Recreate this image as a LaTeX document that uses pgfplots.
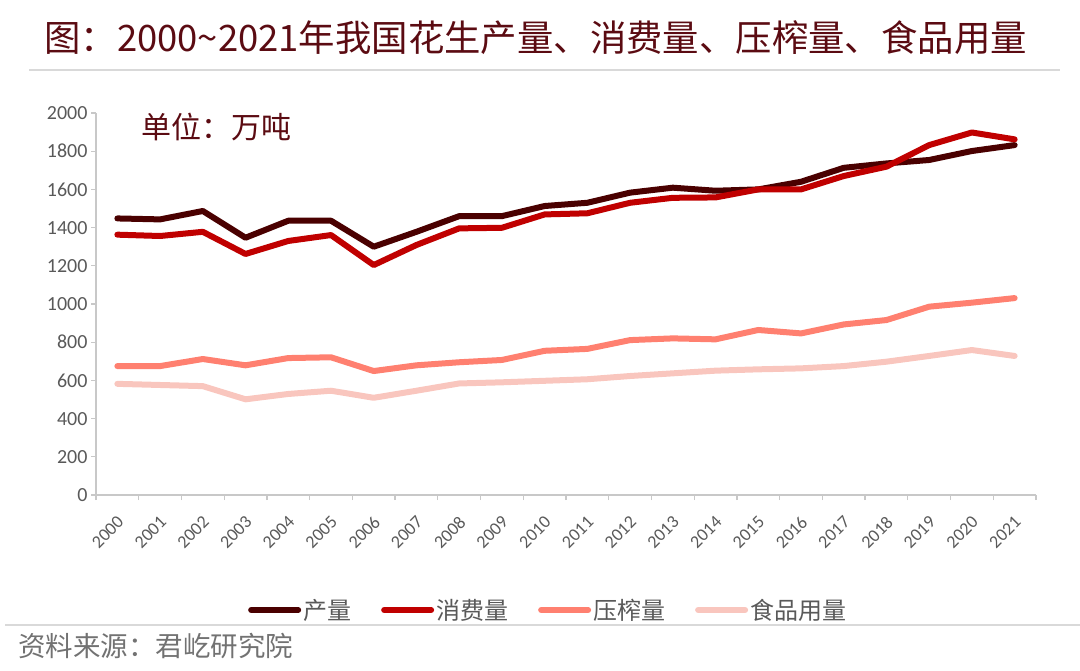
\documentclass[border=0pt]{standalone}
\usepackage{fontspec}
\setmainfont{Noto Sans CJK SC}
\newfontfamily\carlito{Carlito}
\usepackage{pgfplots}
\pgfplotsset{compat=1.18}
\definecolor{titlec}{HTML}{5B0B12}
\definecolor{c1}{HTML}{4A0000}
\definecolor{c2}{HTML}{C00000}
\definecolor{c3}{HTML}{FF8070}
\definecolor{c4}{HTML}{F9C6BE}
\definecolor{axisgray}{HTML}{C8C8C8}
\definecolor{sepgray}{HTML}{D9D9D9}
\definecolor{txtgray}{HTML}{595959}
\begin{document}
\begin{tikzpicture}
\path[use as bounding box] (0,0) rectangle (1080bp,-671bp);
\node[anchor=west, inner sep=0pt, text=titlec, font=\fontsize{36.4bp}{40bp}\selectfont] at (44bp,-38bp) {图：2000\char`~2021年我国花生产量、消费量、压榨量、食品用量};
\draw[sepgray, line width=1.5bp] (29bp,-70bp) -- (1060bp,-70bp);
\draw[sepgray, line width=1.5bp] (5bp,-625bp) -- (1080bp,-625bp);
\node[anchor=west, inner sep=0pt, text=titlec, font=\fontsize{30bp}{33bp}\selectfont] at (141bp,-127bp) {单位：万吨};
\node[anchor=west, inner sep=0pt, text=txtgray!85, font=\fontsize{27.5bp}{30bp}\selectfont] at (18bp,-646bp) {资料来源：君屹研究院};
\begin{axis}[
  at={(96bp,-495bp)}, anchor=south west,
  scale only axis, width=940bp, height=382bp,
  xmin=-0.5, xmax=21.5, ymin=0, ymax=2000,
  axis x line*=bottom, axis y line*=left,
  axis line style={draw=axisgray, line width=1.3bp},
  xtick={-0.5,0.5,...,21.5},
  x tick label as interval,
  xticklabels={2000,2001,2002,2003,2004,2005,2006,2007,2008,2009,2010,2011,2012,2013,2014,2015,2016,2017,2018,2019,2020,2021},
  ytick={0,200,...,2000},
  tick align=outside, major tick length=5bp,
  tick style={draw=axisgray, line width=1.3bp},
  /pgf/number format/assume math mode=true,
  /pgf/number format/1000 sep={},
  yticklabel style={font=\carlito\fontsize{20bp}{22bp}\selectfont, text=txtgray},
  xticklabel style={font=\carlito\fontsize{18bp}{20bp}\selectfont, text=txtgray, xshift=-1bp, yshift=-10bp, rotate=45, anchor=north east},
  every axis plot/.append style={line width=6bp, line join=round, line cap=round},
  legend columns=4,
  legend style={at={(0.481,-0.301)}, anchor=center, draw=none, fill=none,
    font=\fontsize{24bp}{26bp}\selectfont, text=txtgray,
    /tikz/every even column/.append style={column sep=28bp}},
  legend image code/.code={\draw[#1] (3bp,0bp) -- (50bp,0bp);},
]
\addplot[c1] coordinates {(0,1448)(1,1443)(2,1487)(3,1347)(4,1436)(5,1436)(6,1300)(7,1378)(8,1460)(9,1460)(10,1513)(11,1530)(12,1583)(13,1609)(14,1593)(15,1600)(16,1640)(17,1713)(18,1736)(19,1754)(20,1801)(21,1832)};
\addlegendentry{产量}
\addplot[c2] coordinates {(0,1363)(1,1356)(2,1378)(3,1262)(4,1330)(5,1361)(6,1204)(7,1309)(8,1396)(9,1399)(10,1469)(11,1475)(12,1530)(13,1556)(14,1558)(15,1600)(16,1600)(17,1670)(18,1719)(19,1832)(20,1898)(21,1862)};
\addlegendentry{消费量}
\addplot[c3] coordinates {(0,675)(1,675)(2,712)(3,679)(4,717)(5,721)(6,649)(7,679)(8,695)(9,707)(10,755)(11,765)(12,811)(13,820)(14,815)(15,864)(16,846)(17,893)(18,916)(19,986)(20,1007)(21,1031)};
\addlegendentry{压榨量}
\addplot[c4] coordinates {(0,582)(1,576)(2,570)(3,501)(4,529)(5,546)(6,509)(7,546)(8,584)(9,590)(10,598)(11,606)(12,623)(13,637)(14,651)(15,658)(16,663)(17,675)(18,698)(19,728)(20,759)(21,728)};
\addlegendentry{食品用量}
\end{axis}
\end{tikzpicture}
\end{document}
